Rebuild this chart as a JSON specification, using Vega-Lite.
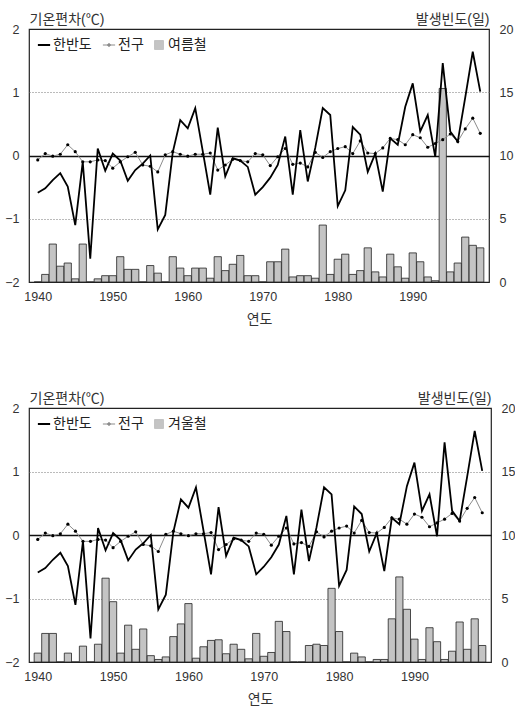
{
"$schema": "https://vega.github.io/schema/vega-lite/v6.json",
"padding": {"left": 4, "top": 11, "right": 0, "bottom": 2},
"background": "white",
"config": {
  "font": "Liberation Sans, Noto Sans CJK KR, sans-serif",
  "view": {"stroke": "#222", "strokeWidth": 1.2},
  "axis": {"labelFontSize": 12.5, "labelColor": "#333", "titleColor": "#333", "titleFontSize": 14, "titleFontWeight": "normal", "ticks": false, "domain": false},
  "legend": {"orient": "none", "legendX": 8, "legendY": 9, "direction": "horizontal", "title": null, "labelFontSize": 14, "labelColor": "#222", "symbolSize": 150, "columnPadding": 8, "labelOffset": 2}
},
"datasets": {
  "temps": [
    {"year":1940,"series":"한반도","value":-0.59},{"year":1941,"series":"한반도","value":-0.52},{"year":1942,"series":"한반도","value":-0.39},{"year":1943,"series":"한반도","value":-0.28},{"year":1944,"series":"한반도","value":-0.49},{"year":1945,"series":"한반도","value":-1.10},{"year":1946,"series":"한반도","value":-0.10},{"year":1947,"series":"한반도","value":-1.63},{"year":1948,"series":"한반도","value":0.11},{"year":1949,"series":"한반도","value":-0.24},
    {"year":1950,"series":"한반도","value":0.03},{"year":1951,"series":"한반도","value":-0.08},{"year":1952,"series":"한반도","value":-0.40},{"year":1953,"series":"한반도","value":-0.23},{"year":1954,"series":"한반도","value":-0.13},{"year":1955,"series":"한반도","value":0.00},{"year":1956,"series":"한반도","value":-1.17},{"year":1957,"series":"한반도","value":-0.94},{"year":1958,"series":"한반도","value":0.05},{"year":1959,"series":"한반도","value":0.56},
    {"year":1960,"series":"한반도","value":0.43},{"year":1961,"series":"한반도","value":0.75},{"year":1962,"series":"한반도","value":0.07},{"year":1963,"series":"한반도","value":-0.62},{"year":1964,"series":"한반도","value":0.44},{"year":1965,"series":"한반도","value":-0.33},{"year":1966,"series":"한반도","value":-0.04},{"year":1967,"series":"한반도","value":-0.08},{"year":1968,"series":"한반도","value":-0.18},{"year":1969,"series":"한반도","value":-0.62},
    {"year":1970,"series":"한반도","value":-0.50},{"year":1971,"series":"한반도","value":-0.35},{"year":1972,"series":"한반도","value":-0.15},{"year":1973,"series":"한반도","value":0.30},{"year":1974,"series":"한반도","value":-0.62},{"year":1975,"series":"한반도","value":0.40},{"year":1976,"series":"한반도","value":-0.41},{"year":1977,"series":"한반도","value":0.12},{"year":1978,"series":"한반도","value":0.75},{"year":1979,"series":"한반도","value":0.64},
    {"year":1980,"series":"한반도","value":-0.80},{"year":1981,"series":"한반도","value":-0.55},{"year":1982,"series":"한반도","value":0.45},{"year":1983,"series":"한반도","value":0.33},{"year":1984,"series":"한반도","value":-0.26},{"year":1985,"series":"한반도","value":0.03},{"year":1986,"series":"한반도","value":-0.57},{"year":1987,"series":"한반도","value":0.27},{"year":1988,"series":"한반도","value":0.17},{"year":1989,"series":"한반도","value":0.77},
    {"year":1990,"series":"한반도","value":1.14},{"year":1991,"series":"한반도","value":0.38},{"year":1992,"series":"한반도","value":0.64},{"year":1993,"series":"한반도","value":-0.02},{"year":1994,"series":"한반도","value":1.46},{"year":1995,"series":"한반도","value":0.38},{"year":1996,"series":"한반도","value":0.22},{"year":1997,"series":"한반도","value":0.92},{"year":1998,"series":"한반도","value":1.64},{"year":1999,"series":"한반도","value":1.01},
    {"year":1940,"series":"전구","value":-0.07},{"year":1941,"series":"전구","value":0.03},{"year":1942,"series":"전구","value":-0.01},{"year":1943,"series":"전구","value":0.02},{"year":1944,"series":"전구","value":0.17},{"year":1945,"series":"전구","value":0.06},{"year":1946,"series":"전구","value":-0.10},{"year":1947,"series":"전구","value":-0.10},{"year":1948,"series":"전구","value":-0.07},{"year":1949,"series":"전구","value":-0.08},
    {"year":1950,"series":"전구","value":-0.20},{"year":1951,"series":"전구","value":-0.10},{"year":1952,"series":"전구","value":-0.02},{"year":1953,"series":"전구","value":0.05},{"year":1954,"series":"전구","value":-0.15},{"year":1955,"series":"전구","value":-0.17},{"year":1956,"series":"전구","value":-0.26},{"year":1957,"series":"전구","value":0.01},{"year":1958,"series":"전구","value":0.06},{"year":1959,"series":"전구","value":0.02},
    {"year":1960,"series":"전구","value":-0.01},{"year":1961,"series":"전구","value":0.02},{"year":1962,"series":"전구","value":0.02},{"year":1963,"series":"전구","value":0.04},{"year":1964,"series":"전구","value":-0.23},{"year":1965,"series":"전구","value":-0.15},{"year":1966,"series":"전구","value":-0.06},{"year":1967,"series":"전구","value":-0.08},{"year":1968,"series":"전구","value":-0.10},{"year":1969,"series":"전구","value":0.03},
    {"year":1970,"series":"전구","value":0.01},{"year":1971,"series":"전구","value":-0.16},{"year":1972,"series":"전구","value":-0.02},{"year":1973,"series":"전구","value":0.11},{"year":1974,"series":"전구","value":-0.14},{"year":1975,"series":"전구","value":-0.12},{"year":1976,"series":"전구","value":-0.18},{"year":1977,"series":"전구","value":0.05},{"year":1978,"series":"전구","value":-0.03},{"year":1979,"series":"전구","value":0.06},
    {"year":1980,"series":"전구","value":0.11},{"year":1981,"series":"전구","value":0.14},{"year":1982,"series":"전구","value":0.03},{"year":1983,"series":"전구","value":0.23},{"year":1984,"series":"전구","value":0.04},{"year":1985,"series":"전구","value":0.03},{"year":1986,"series":"전구","value":0.12},{"year":1987,"series":"전구","value":0.27},{"year":1988,"series":"전구","value":0.25},{"year":1989,"series":"전구","value":0.17},
    {"year":1990,"series":"전구","value":0.33},{"year":1991,"series":"전구","value":0.28},{"year":1992,"series":"전구","value":0.13},{"year":1993,"series":"전구","value":0.19},{"year":1994,"series":"전구","value":0.25},{"year":1995,"series":"전구","value":0.34},{"year":1996,"series":"전구","value":0.22},{"year":1997,"series":"전구","value":0.42},{"year":1998,"series":"전구","value":0.59},{"year":1999,"series":"전구","value":0.35}
  ],
  "summer": [
    {"year":1940,"days":0},{"year":1941,"days":0.6},{"year":1942,"days":3.0},{"year":1943,"days":1.25},{"year":1944,"days":1.5},{"year":1945,"days":0.25},{"year":1946,"days":3.0},{"year":1947,"days":0},{"year":1948,"days":0.25},{"year":1949,"days":0.5},
    {"year":1950,"days":0.5},{"year":1951,"days":2.0},{"year":1952,"days":1.0},{"year":1953,"days":1.0},{"year":1954,"days":0},{"year":1955,"days":1.3},{"year":1956,"days":0.7},{"year":1957,"days":0},{"year":1958,"days":2.0},{"year":1959,"days":1.1},
    {"year":1960,"days":0.5},{"year":1961,"days":1.1},{"year":1962,"days":1.1},{"year":1963,"days":0.3},{"year":1964,"days":2.0},{"year":1965,"days":0.9},{"year":1966,"days":1.4},{"year":1967,"days":2.1},{"year":1968,"days":0.5},{"year":1969,"days":0.5},
    {"year":1970,"days":0},{"year":1971,"days":1.6},{"year":1972,"days":1.6},{"year":1973,"days":2.6},{"year":1974,"days":0.4},{"year":1975,"days":0.5},{"year":1976,"days":0.5},{"year":1977,"days":0.3},{"year":1978,"days":4.5},{"year":1979,"days":0.6},
    {"year":1980,"days":1.8},{"year":1981,"days":2.2},{"year":1982,"days":0.6},{"year":1983,"days":0.9},{"year":1984,"days":2.7},{"year":1985,"days":0.8},{"year":1986,"days":0.4},{"year":1987,"days":2.2},{"year":1988,"days":1.2},{"year":1989,"days":0.3},
    {"year":1990,"days":2.3},{"year":1991,"days":1.6},{"year":1992,"days":0.4},{"year":1993,"days":0.1},{"year":1994,"days":15.3},{"year":1995,"days":0.8},{"year":1996,"days":1.5},{"year":1997,"days":3.55},{"year":1998,"days":2.9},{"year":1999,"days":2.7}
  ],
  "winter": [
    {"year":1940,"days":0.7},{"year":1941,"days":2.25},{"year":1942,"days":2.25},{"year":1943,"days":0},{"year":1944,"days":0.7},{"year":1945,"days":0},{"year":1946,"days":1.25},{"year":1947,"days":0},{"year":1948,"days":1.4},{"year":1949,"days":6.6},
    {"year":1950,"days":4.75},{"year":1951,"days":0.7},{"year":1952,"days":2.9},{"year":1953,"days":1.0},{"year":1954,"days":2.6},{"year":1955,"days":0.5},{"year":1956,"days":0.2},{"year":1957,"days":0.4},{"year":1958,"days":2.0},{"year":1959,"days":3.0},
    {"year":1960,"days":4.6},{"year":1961,"days":0.3},{"year":1962,"days":1.2},{"year":1963,"days":1.7},{"year":1964,"days":1.75},{"year":1965,"days":0.65},{"year":1966,"days":1.4},{"year":1967,"days":1.0},{"year":1968,"days":0.25},{"year":1969,"days":2.25},
    {"year":1970,"days":0.45},{"year":1971,"days":0.75},{"year":1972,"days":3.2},{"year":1973,"days":2.4},{"year":1974,"days":0},{"year":1975,"days":0},{"year":1976,"days":1.3},{"year":1977,"days":1.4},{"year":1978,"days":1.3},{"year":1979,"days":5.8},
    {"year":1980,"days":2.4},{"year":1981,"days":0},{"year":1982,"days":0.7},{"year":1983,"days":0.4},{"year":1984,"days":0},{"year":1985,"days":0.2},{"year":1986,"days":0.2},{"year":1987,"days":3.4},{"year":1988,"days":6.7},{"year":1989,"days":4.15},
    {"year":1990,"days":1.8},{"year":1991,"days":0.2},{"year":1992,"days":2.7},{"year":1993,"days":1.6},{"year":1994,"days":0.2},{"year":1995,"days":0.85},{"year":1996,"days":3.15},{"year":1997,"days":1.0},{"year":1998,"days":3.4},{"year":1999,"days":1.3}
  ]
},
"spacing": 62,
"resolve": {"scale": {"color": "independent"}, "legend": {"color": "independent"}},
"vconcat": [
  {
    "width": 460, "height": 253,
    "encoding": {"x": {"field": "year", "type": "quantitative", "scale": {"domain": [1939.5, 1999.5], "nice": false, "zero": false}, "axis": {"values": [1940,1950,1960,1970,1980,1990], "format": "d", "title": "연도", "grid": false, "labelPadding": 8, "titlePadding": 10}}},
    "layer": [
      {"data": {"name": "summer"}, "mark": {"type": "bar", "size": 7.2, "stroke": "#222", "strokeWidth": 0.8},
       "encoding": {
         "y": {"field": "days", "type": "quantitative", "scale": {"domain": [0, 20], "nice": false}, "axis": {"orient": "right", "values": [0,5,10,15,20], "title": "발생빈도(일)", "titleAngle": 0, "titleAlign": "right", "titleX": 0, "titleY": -6, "titleBaseline": "alphabetic", "labelPadding": 10, "grid": false}},
         "color": {"datum": "여름철", "type": "nominal", "scale": {"domain": ["한반도", "전구", "여름철"], "range": ["#000000", "#8c8c8c", "#c4c4c4"]},
           "legend": {"title": null, "encode": {"symbols": {"update": {
               "shape": {"signal": "datum.value === '한반도' ? 'M-1,0H1' : datum.value === '전구' ? 'M-1,0H1M-0.22,0A0.22,0.22,0,1,1,0.22,0A0.22,0.22,0,1,1,-0.22,0' : 'square'"},
               "size": {"signal": "datum.value === '여름철' ? 80 : 150"},
               "fill": {"signal": "datum.value === '한반도' ? 'transparent' : datum.value === '전구' ? '#000' : '#c4c4c4'"},
               "stroke": {"signal": "datum.value === '전구' ? '#555' : '#000'"},
               "strokeWidth": {"signal": "datum.value === '한반도' ? 2 : 1"}
             }}}}}
       }},
      {"data": {"name": "temps"}, "layer": [
        {"transform": [{"filter": "datum.series === '전구'"}], "mark": {"type": "line", "strokeWidth": 1},
         "encoding": {"y": {"field": "value", "type": "quantitative", "scale": {"domain": [-2, 2], "nice": false}, "axis": {"orient": "left", "values": [-2,-1,0,1,2], "title": "기온편차(℃)", "titleAngle": 0, "titleAlign": "left", "titleX": 0, "titleY": -6, "titleBaseline": "alphabetic", "labelPadding": 10, "grid": true, "gridDash": {"condition": {"test": "datum.value === 0", "value": []}, "value": [1, 2]}, "gridColor": {"condition": {"test": "datum.value === 0", "value": "#111"}, "value": "#777"}, "gridWidth": {"condition": {"test": "datum.value === 0", "value": 1.5}, "value": 1}, "gridOpacity": {"condition": {"test": "abs(datum.value) === 2", "value": 0}, "value": 1}}},
           "color": {"field": "series", "type": "nominal", "legend": {"title": null, "encode": {"symbols": {"update": {
               "shape": {"signal": "datum.value === '한반도' ? 'M-1,0H1' : datum.value === '전구' ? 'M-1,0H1M-0.22,0A0.22,0.22,0,1,1,0.22,0A0.22,0.22,0,1,1,-0.22,0' : 'square'"},
               "size": {"signal": "datum.value === '여름철' ? 80 : 150"},
               "fill": {"signal": "datum.value === '한반도' ? 'transparent' : datum.value === '전구' ? '#000' : '#c4c4c4'"},
               "stroke": {"signal": "datum.value === '전구' ? '#555' : '#000'"},
               "strokeWidth": {"signal": "datum.value === '한반도' ? 2 : 1"}
             }}}}}}},
        {"transform": [{"filter": "datum.series === '한반도'"}], "mark": {"type": "line", "strokeWidth": 1.8},
         "encoding": {"y": {"field": "value", "type": "quantitative", "scale": {"domain": [-2, 2], "nice": false}, "axis": {"orient": "left", "values": [-2,-1,0,1,2], "title": "기온편차(℃)", "titleAngle": 0, "titleAlign": "left", "titleX": 0, "titleY": -6, "titleBaseline": "alphabetic", "labelPadding": 10, "grid": true, "gridDash": {"condition": {"test": "datum.value === 0", "value": []}, "value": [1, 2]}, "gridColor": {"condition": {"test": "datum.value === 0", "value": "#111"}, "value": "#777"}, "gridWidth": {"condition": {"test": "datum.value === 0", "value": 1.5}, "value": 1}, "gridOpacity": {"condition": {"test": "abs(datum.value) === 2", "value": 0}, "value": 1}}},
           "color": {"field": "series", "type": "nominal", "legend": {"title": null, "encode": {"symbols": {"update": {
               "shape": {"signal": "datum.value === '한반도' ? 'M-1,0H1' : datum.value === '전구' ? 'M-1,0H1M-0.22,0A0.22,0.22,0,1,1,0.22,0A0.22,0.22,0,1,1,-0.22,0' : 'square'"},
               "size": {"signal": "datum.value === '여름철' ? 80 : 150"},
               "fill": {"signal": "datum.value === '한반도' ? 'transparent' : datum.value === '전구' ? '#000' : '#c4c4c4'"},
               "stroke": {"signal": "datum.value === '전구' ? '#555' : '#000'"},
               "strokeWidth": {"signal": "datum.value === '한반도' ? 2 : 1"}
             }}}}}}},
        {"transform": [{"filter": "datum.series === '전구'"}], "mark": {"type": "point", "filled": true, "color": "#000", "size": 10, "opacity": 1},
         "encoding": {"y": {"field": "value", "type": "quantitative", "scale": {"domain": [-2, 2], "nice": false}, "axis": {"orient": "left", "values": [-2,-1,0,1,2], "title": "기온편차(℃)", "titleAngle": 0, "titleAlign": "left", "titleX": 0, "titleY": -6, "titleBaseline": "alphabetic", "labelPadding": 10, "grid": true, "gridDash": {"condition": {"test": "datum.value === 0", "value": []}, "value": [1, 2]}, "gridColor": {"condition": {"test": "datum.value === 0", "value": "#111"}, "value": "#777"}, "gridWidth": {"condition": {"test": "datum.value === 0", "value": 1.5}, "value": 1}, "gridOpacity": {"condition": {"test": "abs(datum.value) === 2", "value": 0}, "value": 1}}}}}
      ]}
    ],
    "resolve": {"scale": {"y": "independent"}}
  },
  {
    "width": 462, "height": 254,
    "encoding": {"x": {"field": "year", "type": "quantitative", "scale": {"domain": [1939.5, 1999.5], "nice": false, "zero": false}, "axis": {"values": [1940,1950,1960,1970,1980,1990], "format": "d", "title": "연도", "grid": false, "labelPadding": 8, "titlePadding": 10}}},
    "layer": [
      {"data": {"name": "winter"}, "mark": {"type": "bar", "size": 7.2, "stroke": "#222", "strokeWidth": 0.8},
       "encoding": {
         "y": {"field": "days", "type": "quantitative", "scale": {"domain": [0, 20], "nice": false}, "axis": {"orient": "right", "values": [0,5,10,15,20], "title": "발생빈도(일)", "titleAngle": 0, "titleAlign": "right", "titleX": 0, "titleY": -6, "titleBaseline": "alphabetic", "labelPadding": 10, "grid": false}},
         "color": {"datum": "겨울철", "type": "nominal", "scale": {"domain": ["한반도", "전구", "겨울철"], "range": ["#000000", "#8c8c8c", "#c4c4c4"]},
           "legend": {"title": null, "encode": {"symbols": {"update": {
               "shape": {"signal": "datum.value === '한반도' ? 'M-1,0H1' : datum.value === '전구' ? 'M-1,0H1M-0.22,0A0.22,0.22,0,1,1,0.22,0A0.22,0.22,0,1,1,-0.22,0' : 'square'"},
               "size": {"signal": "datum.value === '겨울철' ? 80 : 150"},
               "fill": {"signal": "datum.value === '한반도' ? 'transparent' : datum.value === '전구' ? '#000' : '#c4c4c4'"},
               "stroke": {"signal": "datum.value === '전구' ? '#555' : '#000'"},
               "strokeWidth": {"signal": "datum.value === '한반도' ? 2 : 1"}
             }}}}}
       }},
      {"data": {"name": "temps"}, "layer": [
        {"transform": [{"filter": "datum.series === '전구'"}], "mark": {"type": "line", "strokeWidth": 1},
         "encoding": {"y": {"field": "value", "type": "quantitative", "scale": {"domain": [-2, 2], "nice": false}, "axis": {"orient": "left", "values": [-2,-1,0,1,2], "title": "기온편차(℃)", "titleAngle": 0, "titleAlign": "left", "titleX": 0, "titleY": -6, "titleBaseline": "alphabetic", "labelPadding": 10, "grid": true, "gridDash": {"condition": {"test": "datum.value === 0", "value": []}, "value": [1, 2]}, "gridColor": {"condition": {"test": "datum.value === 0", "value": "#111"}, "value": "#777"}, "gridWidth": {"condition": {"test": "datum.value === 0", "value": 1.5}, "value": 1}, "gridOpacity": {"condition": {"test": "abs(datum.value) === 2", "value": 0}, "value": 1}}},
           "color": {"field": "series", "type": "nominal", "legend": {"title": null, "encode": {"symbols": {"update": {
               "shape": {"signal": "datum.value === '한반도' ? 'M-1,0H1' : datum.value === '전구' ? 'M-1,0H1M-0.22,0A0.22,0.22,0,1,1,0.22,0A0.22,0.22,0,1,1,-0.22,0' : 'square'"},
               "size": {"signal": "datum.value === '겨울철' ? 80 : 150"},
               "fill": {"signal": "datum.value === '한반도' ? 'transparent' : datum.value === '전구' ? '#000' : '#c4c4c4'"},
               "stroke": {"signal": "datum.value === '전구' ? '#555' : '#000'"},
               "strokeWidth": {"signal": "datum.value === '한반도' ? 2 : 1"}
             }}}}}}},
        {"transform": [{"filter": "datum.series === '한반도'"}], "mark": {"type": "line", "strokeWidth": 1.8},
         "encoding": {"y": {"field": "value", "type": "quantitative", "scale": {"domain": [-2, 2], "nice": false}, "axis": {"orient": "left", "values": [-2,-1,0,1,2], "title": "기온편차(℃)", "titleAngle": 0, "titleAlign": "left", "titleX": 0, "titleY": -6, "titleBaseline": "alphabetic", "labelPadding": 10, "grid": true, "gridDash": {"condition": {"test": "datum.value === 0", "value": []}, "value": [1, 2]}, "gridColor": {"condition": {"test": "datum.value === 0", "value": "#111"}, "value": "#777"}, "gridWidth": {"condition": {"test": "datum.value === 0", "value": 1.5}, "value": 1}, "gridOpacity": {"condition": {"test": "abs(datum.value) === 2", "value": 0}, "value": 1}}},
           "color": {"field": "series", "type": "nominal", "legend": {"title": null, "encode": {"symbols": {"update": {
               "shape": {"signal": "datum.value === '한반도' ? 'M-1,0H1' : datum.value === '전구' ? 'M-1,0H1M-0.22,0A0.22,0.22,0,1,1,0.22,0A0.22,0.22,0,1,1,-0.22,0' : 'square'"},
               "size": {"signal": "datum.value === '겨울철' ? 80 : 150"},
               "fill": {"signal": "datum.value === '한반도' ? 'transparent' : datum.value === '전구' ? '#000' : '#c4c4c4'"},
               "stroke": {"signal": "datum.value === '전구' ? '#555' : '#000'"},
               "strokeWidth": {"signal": "datum.value === '한반도' ? 2 : 1"}
             }}}}}}},
        {"transform": [{"filter": "datum.series === '전구'"}], "mark": {"type": "point", "filled": true, "color": "#000", "size": 10, "opacity": 1},
         "encoding": {"y": {"field": "value", "type": "quantitative", "scale": {"domain": [-2, 2], "nice": false}, "axis": {"orient": "left", "values": [-2,-1,0,1,2], "title": "기온편차(℃)", "titleAngle": 0, "titleAlign": "left", "titleX": 0, "titleY": -6, "titleBaseline": "alphabetic", "labelPadding": 10, "grid": true, "gridDash": {"condition": {"test": "datum.value === 0", "value": []}, "value": [1, 2]}, "gridColor": {"condition": {"test": "datum.value === 0", "value": "#111"}, "value": "#777"}, "gridWidth": {"condition": {"test": "datum.value === 0", "value": 1.5}, "value": 1}, "gridOpacity": {"condition": {"test": "abs(datum.value) === 2", "value": 0}, "value": 1}}}}}
      ]}
    ],
    "resolve": {"scale": {"y": "independent"}}
  }
]
}
